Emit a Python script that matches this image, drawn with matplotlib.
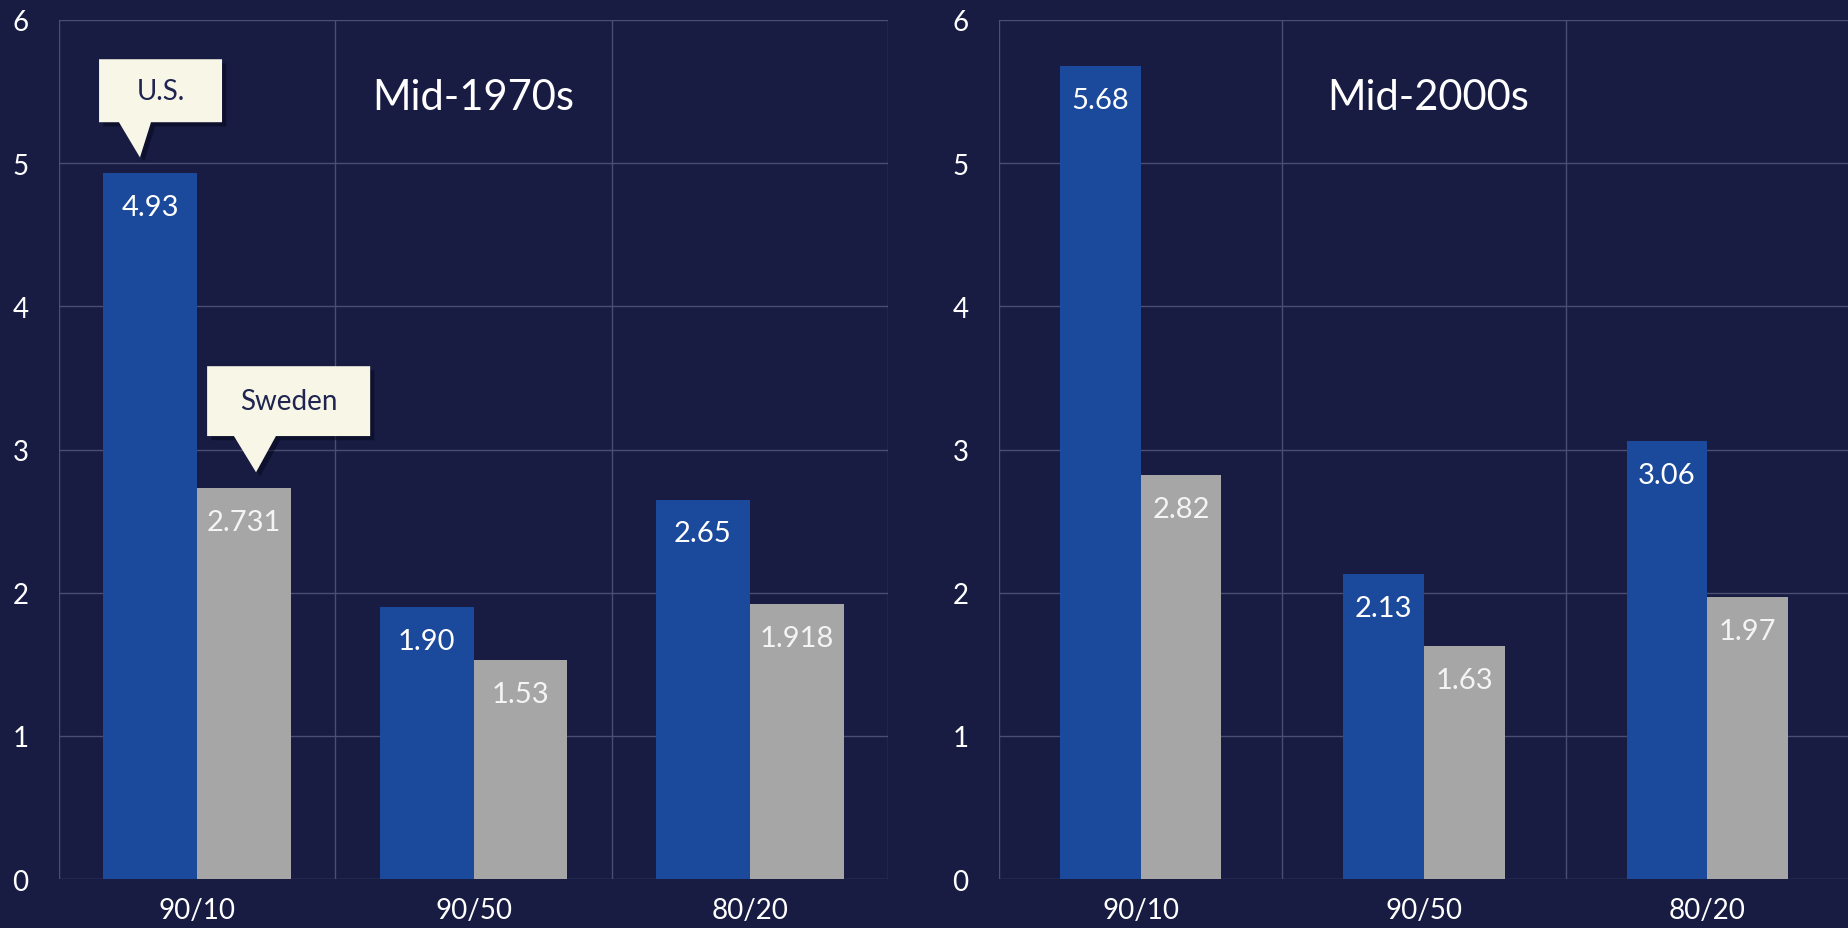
import matplotlib
matplotlib.use('Agg')
import matplotlib.pyplot as plt
from matplotlib.patches import Polygon
import matplotlib.patheffects as pe

# percentile ratios, US vs Sweden
ratios = ["90/10", "90/50", "80/20"]
us_1970s = [4.93, 1.90, 2.65]
se_1970s = [2.731, 1.53, 1.918]
us_2000s = [5.68, 2.13, 3.06]
se_2000s = [2.82, 1.63, 1.97]
lbl_us_1970s = ["4.93", "1.90", "2.65"]
lbl_se_1970s = ["2.731", "1.53", "1.918"]
lbl_us_2000s = ["5.68", "2.13", "3.06"]
lbl_se_2000s = ["2.82", "1.63", "1.97"]

BG = "#181c42"
BLUE = "#1b4a9c"
GRAY = "#a6a6a6"
GRID = "#4a4f72"
CREAM = "#f7f6e7"
plt.rcParams['font.family'] = ['Lato', 'DejaVu Sans']

fig = plt.figure(figsize=(18.49, 9.29), dpi=100, facecolor=BG)
ax1 = fig.add_axes([0.0319, 0.0527, 0.4484, 0.9247])
ax2 = fig.add_axes([0.5403, 0.0527, 0.4597, 0.9247])


def panel(ax, us, se, lus, lse, width, title, tx):
    ax.set_facecolor(BG)
    xs = range(len(ratios))
    b1 = ax.bar([x - width / 2 for x in xs], us, width, color=BLUE, zorder=3)
    b2 = ax.bar([x + width / 2 for x in xs], se, width, color=GRAY, zorder=3)
    for bars, labels, col in ((b1, lus, "white"), (b2, lse, "#f4f4f4")):
        for b, t in zip(bars, labels):
            ax.annotate(t, (b.get_x() + b.get_width() / 2, b.get_height()),
                        xytext=(0, -15), textcoords="offset points",
                        ha="center", va="top", color=col, fontsize=21, zorder=4)
    ax.set_xlim(-0.5, 2.5)
    ax.set_ylim(0, 6)
    ax.set_yticks(range(7))
    ax.set_xticks(list(xs))
    ax.set_xticklabels(ratios)
    for v in [-0.5, 0.5, 1.5, 2.5]:
        ax.axvline(v, color=GRID, lw=1, zorder=1)
    ax.yaxis.grid(True, color=GRID, lw=1, zorder=1)
    ax.set_axisbelow(True)
    for s in ax.spines.values():
        s.set_visible(False)
    ax.tick_params(length=0, colors="white", labelsize=20)
    ax.tick_params(axis='y', pad=22)
    ax.tick_params(axis='x', pad=13)
    ax.text(tx, 0.91, title, transform=ax.transAxes,
            ha="center", va="center", color="white", fontsize=30)


panel(ax1, us_1970s, se_1970s, lbl_us_1970s, lbl_se_1970s, 0.34, "Mid-1970s", 0.5)
panel(ax2, us_2000s, se_2000s, lbl_us_2000s, lbl_se_2000s, 0.285, "Mid-2000s", 0.505)


def callout(ax, text, x0, x1, y0, y1, bx0, bx1, tip):
    pts = [(x0, y1), (x1, y1), (x1, y0), (bx1, y0), tip, (bx0, y0), (x0, y0)]
    poly = Polygon(pts, closed=True, facecolor=CREAM, edgecolor="none", zorder=5,
                   path_effects=[pe.SimplePatchShadow(offset=(3, -3), alpha=0.5,
                                                      shadow_rgbFace="#05071a"),
                                 pe.Normal()])
    ax.add_patch(poly)
    ax.text((x0 + x1) / 2, (y0 + y1) / 2, text, ha="center", va="center",
            color="#1f2450", fontsize=20, zorder=6)


callout(ax1, "U.S.", -0.355, 0.090, 5.286, 5.726, -0.283, -0.167,
        (-0.207, us_1970s[0] + 0.11))
callout(ax1, "Sweden", 0.036, 0.626, 3.094, 3.582, 0.133, 0.285,
        (0.213, se_1970s[0] + 0.11))

fig.savefig("out.png", dpi=100, facecolor=BG)
